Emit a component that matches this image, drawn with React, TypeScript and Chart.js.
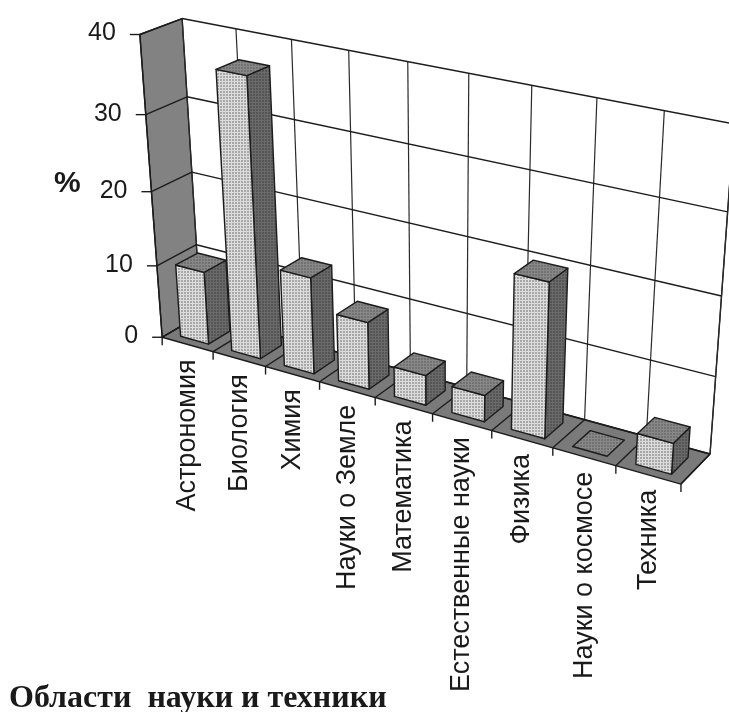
import React, { useEffect, useRef } from "react";
import { Chart, registerables } from "chart.js";

Chart.register(...registerables);

const categories = ["Астрономия", "Биология", "Химия", "Науки о Земле", "Математика", "Естественные науки", "Физика", "Науки о космосе", "Техника"];
const shares = [10, 37, 13, 9, 4, 3.5, 20, 0, 4];
const yTicks = { min: 0, max: 40, step: 10 };
const yTitle = "%";
const xTitle = "Области  науки и техники";

// Camera calibration: unit-cube corners of the plot box (u along categories, v up, w into the page) -> screen.
const boxCorners: number[][] = [
  [0, 0, 0, 162, 336],
  [1, 0, 0, 681, 485],
  [0, 1, 0, 140, 35],
  [0, 0, 1, 201, 316],
  [1, 0, 1, 710, 453],
  [0, 1, 1, 182, 18],
  [1, 1, 1, 734, 124],
];
const barDepth = [0.18, 0.74];

function solveCamera(pts: number[][]): number[] {
  const rows: number[][] = [];
  const rhs: number[] = [];
  for (const [u, v, w, x, y] of pts) {
    rows.push([u, v, w, 1, 0, 0, 0, 0, -x * u, -x * v, -x * w]);
    rhs.push(x);
    rows.push([0, 0, 0, 0, u, v, w, 1, -y * u, -y * v, -y * w]);
    rhs.push(y);
  }
  const n = 11;
  const m: number[][] = [];
  for (let i = 0; i < n; i++) {
    const r: number[] = [];
    for (let j = 0; j < n; j++) r.push(rows.reduce((s, row) => s + row[i] * row[j], 0));
    r.push(rows.reduce((s, row, k) => s + row[i] * rhs[k], 0));
    m.push(r);
  }
  for (let c = 0; c < n; c++) {
    let p = c;
    for (let r = c + 1; r < n; r++) if (Math.abs(m[r][c]) > Math.abs(m[p][c])) p = r;
    [m[c], m[p]] = [m[p], m[c]];
    for (let r = 0; r < n; r++) {
      if (r === c) continue;
      const f = m[r][c] / m[c][c];
      for (let k = c; k <= n; k++) m[r][k] -= f * m[c][k];
    }
  }
  return m.map((r, i) => r[n] / r[i]);
}

const cam = solveCamera(boxCorners);
const project = (u: number, v: number, w: number): [number, number] => {
  const d = cam[8] * u + cam[9] * v + cam[10] * w + 1;
  return [
    (cam[0] * u + cam[1] * v + cam[2] * w + cam[3]) / d,
    (cam[4] * u + cam[5] * v + cam[6] * w + cam[7]) / d,
  ];
};

function makePattern(ctx: CanvasRenderingContext2D, a: string, b: string, sx: number, sy: number) {
  const c = document.createElement("canvas");
  c.width = sx;
  c.height = sy;
  const g = c.getContext("2d")!;
  g.fillStyle = a;
  g.fillRect(0, 0, sx, sy);
  g.fillStyle = b;
  g.fillRect(0, 0, 1, sy);
  g.fillRect(0, 0, sx, 1);
  return ctx.createPattern(c, "repeat")!;
}

const INK = "#1c1c1c";

function poly(ctx: CanvasRenderingContext2D, pts: [number, number][], fill: any, stroke = true) {
  ctx.beginPath();
  pts.forEach((p, i) => (i ? ctx.lineTo(p[0], p[1]) : ctx.moveTo(p[0], p[1])));
  ctx.closePath();
  if (fill) {
    ctx.fillStyle = fill;
    ctx.fill();
  }
  if (stroke) {
    ctx.strokeStyle = INK;
    ctx.lineWidth = 1.4;
    ctx.stroke();
  }
}

function seg(ctx: CanvasRenderingContext2D, a: [number, number], b: [number, number], width = 1.4, color = INK) {
  ctx.beginPath();
  ctx.moveTo(a[0], a[1]);
  ctx.lineTo(b[0], b[1]);
  ctx.strokeStyle = color;
  ctx.lineWidth = width;
  ctx.stroke();
}

const box3d = {
  id: "box3d",
  afterDatasetsDraw(chart: any) {
    const ctx: CanvasRenderingContext2D = chart.ctx;
    const area = chart.chartArea;
    const xs = chart.scales.x;
    const ys = chart.scales.y;
    const toU = (px: number) => (px - area.left) / area.width;
    const toV = (py: number) => (area.bottom - py) / area.height;
    const step = xs.getPixelForValue(1) - xs.getPixelForValue(0);
    const bounds = categories.map((_, i) => toU(xs.getPixelForValue(i) - step / 2));
    bounds.push(toU(xs.getPixelForValue(categories.length - 1) + step / 2));
    const levels = ys.ticks.map((t: any) => ({ value: t.value, v: toV(ys.getPixelForValue(t.value)) }));

    ctx.save();
    ctx.lineJoin = "round";
    // walls and floor
    poly(ctx, [project(0, 0, 0), project(0, 0, 1), project(0, 1, 1), project(0, 1, 0)], "#828282");
    poly(ctx, [project(0, 0, 0), project(1, 0, 0), project(1, 0, 1), project(0, 0, 1)], "#7a7a7a");
    seg(ctx, project(1, 0, 1), project(1, 1, 1));
    bounds.forEach((u) => {
      seg(ctx, project(u, 0, 1), project(u, 1, 1), 1.2, "#2a2a2a");
      seg(ctx, project(u, 0, 0), project(u, 0, 1));
      const a = project(u, 0, 0);
      seg(ctx, a, [a[0], a[1] + 8]);
    });
    levels.forEach(({ v }: any) => {
      seg(ctx, project(0, v, 1), project(1, v, 1));
      seg(ctx, project(0, v, 0), project(0, v, 1));
      const a = project(0, v, 0);
      seg(ctx, [a[0] - 10, a[1]], a);
    });
    seg(ctx, project(0, 0, 0), project(0, 1, 0));

    // bars
    const front = makePattern(ctx, "#a8a8a8", "#dcdcdc", 3, 3);
    const side = makePattern(ctx, "#555555", "#6a6a6a", 3, 3);
    const top = makePattern(ctx, "#727272", "#888888", 3, 3);
    chart.getDatasetMeta(0).data.forEach((bar: any) => {
      const { x, y, base, width } = bar.getProps(["x", "y", "base", "width"], true);
      const u0 = toU(x - width / 2);
      const u1 = toU(x + width / 2);
      const v0 = toV(base);
      const v1 = toV(y);
      const [w0, w1] = barDepth;
      if (v1 > v0) {
        poly(ctx, [project(u1, v0, w0), project(u1, v0, w1), project(u1, v1, w1), project(u1, v1, w0)], side);
        poly(ctx, [project(u0, v0, w0), project(u1, v0, w0), project(u1, v1, w0), project(u0, v1, w0)], front);
      }
      poly(ctx, [project(u0, v1, w0), project(u1, v1, w0), project(u1, v1, w1), project(u0, v1, w1)], top);
    });

    // text
    ctx.fillStyle = "#1a1a1a";
    ctx.textBaseline = "middle";
    ctx.textAlign = "right";
    ctx.font = '25px "Liberation Sans"';
    levels.forEach(({ value, v }: any) => {
      const a = project(0, v, 0);
      ctx.fillText(String(value), a[0] - 24, a[1] - 1);
    });
    ctx.font = '27px "Liberation Sans"';
    categories.forEach((label, i) => {
      const a = project((bounds[i] + bounds[i + 1]) / 2, 0, 0);
      ctx.save();
      ctx.translate(a[0], a[1] + 15);
      ctx.rotate(-Math.PI / 2);
      ctx.textAlign = "right";
      ctx.textBaseline = "middle";
      ctx.fillText(label, 0, 0);
      ctx.restore();
    });
    ctx.textAlign = "left";
    ctx.font = 'bold 30px "Liberation Sans"';
    ctx.fillText(yTitle, 54, 184);
    ctx.font = 'bold 32px "Liberation Serif"';
    ctx.fillText(xTitle, 9, 699);
    ctx.restore();
  },
};

export default function App() {
  const ref = useRef<HTMLCanvasElement>(null);
  useEffect(() => {
    document.body.style.margin = "0";
    const chart = new Chart(ref.current!, {
      type: "bar",
      data: {
        labels: categories,
        datasets: [{ data: shares, backgroundColor: "rgba(0,0,0,0)", borderWidth: 0, barPercentage: 0.55, categoryPercentage: 1 }],
      },
      options: {
        animation: false,
        responsive: false,
        devicePixelRatio: 1,
        layout: { padding: 0 },
        plugins: { legend: { display: false }, tooltip: { enabled: false } },
        scales: {
          x: { display: false },
          y: { display: false, min: yTicks.min, max: yTicks.max, ticks: { stepSize: yTicks.step } },
        },
      },
      plugins: [box3d],
    });
    return () => chart.destroy();
  }, []);
  return <canvas ref={ref} width={729} height={712} style={{ display: "block", background: "#fff" }} />;
}
